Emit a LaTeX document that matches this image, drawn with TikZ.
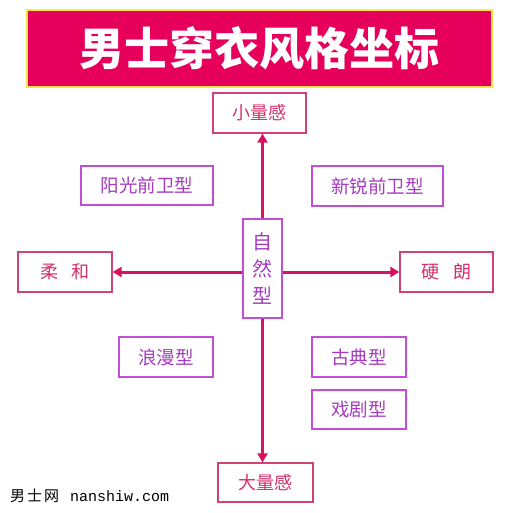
\documentclass[tikz,border=0pt]{standalone}
\usepackage{fontspec}
\newfontfamily\cjk{Noto Sans CJK SC}
\newfontfamily\monofont{Liberation Mono}
\usepackage{xcolor}
\definecolor{TitleRed}{HTML}{E6005B}
\definecolor{TitleEdge}{HTML}{FFE24A}
\definecolor{AxisRed}{HTML}{D8125E}
\definecolor{PoleEdge}{HTML}{CF4376}
\definecolor{PoleText}{HTML}{D4306C}
\definecolor{TypeEdge}{HTML}{C24ED8}
\definecolor{TypeText}{HTML}{A53CC0}
\usepackage{tikz}
\usetikzlibrary{arrows.meta,positioning,calc}

\begin{document}
\begin{tikzpicture}[x=1pt,y=-1pt,font=\cjk]
\tikzset{
  polebox/.style={draw=PoleEdge,fill=white,line width=1.3pt,inner sep=0pt,
    minimum width=93pt,minimum height=40pt,text=PoleText,font=\cjk\fontsize{18}{18}\selectfont},
  typebox/.style={draw=TypeEdge,fill=white,line width=1.3pt,inner sep=0pt,
    minimum height=39pt,text=TypeText,font=\cjk\fontsize{18.5}{18.5}\selectfont},
  axis/.style={AxisRed,line width=3pt,-{Triangle[length=9pt,width=10pt]}}
}
\useasboundingbox (0,0) rectangle (513,513);
\fill[white] (0,0) rectangle (513,513);

% Title banner
\node[draw=TitleEdge,fill=TitleRed,line width=1.5pt,minimum width=465pt,minimum height=77pt,
  inner sep=0pt,text=white,font=\cjk\bfseries\fontsize{45}{45}\selectfont] (title) at (259.5,48.5)
  {男士穿衣风格坐标};

% Centre of the coordinate cross
\node[draw=TypeEdge,fill=white,line width=1.3pt,minimum width=39pt,minimum height=99pt,inner sep=0pt,
  align=center,text=TypeText,font=\cjk\fontsize{20}{27}\selectfont] (ziran) at (262.5,268.5)
  {自\\然\\型};

% Axis poles
\node[polebox] (xiaoliang) at (259.5,113) {小量感};
\node[polebox,minimum width=95pt,minimum height=39pt] (daliang) at (265.5,482.5) {大量感};
\node[polebox,minimum width=94pt] (rouhe) at (65,272) {柔\hspace{14pt}和};
\node[polebox] (yinglang) at (446.5,272) {硬\hspace{14pt}朗};

% Style types in the four quadrants
\node[typebox,minimum width=132pt] (yangguang) at (147,185.5) {阳光前卫型};
\node[typebox,minimum width=131pt,minimum height=40pt] (xinrui) at (377.5,186) {新锐前卫型};
\node[typebox,minimum width=94pt,minimum height=40pt] (langman) at (166,357) {浪漫型};
\node[typebox,minimum width=94pt,minimum height=40pt] (gudian) at (359,357) {古典型};
\node[typebox,minimum width=94pt] (xiju) at (359,409.5) {戏剧型};

% Axes: horizontal ones run level with the pole boxes
\draw[axis] (ziran.north) -- (ziran.north |- xiaoliang.south);
\draw[axis] (ziran.south) -- (ziran.south |- daliang.north);
\draw[axis] (rouhe.east -| ziran.west) -- (rouhe.east);
\draw[axis] (yinglang.west -| ziran.east) -- (yinglang.west);

% Watermark
\node[anchor=west,inner sep=0pt,text=black,font=\fontsize{15}{15}\selectfont] (mark) at (10,496)
  {\cjk 男\hspace{2pt}士\hspace{2pt}网\hspace{11pt}\monofont nanshiw.com};
\end{tikzpicture}
\end{document}
